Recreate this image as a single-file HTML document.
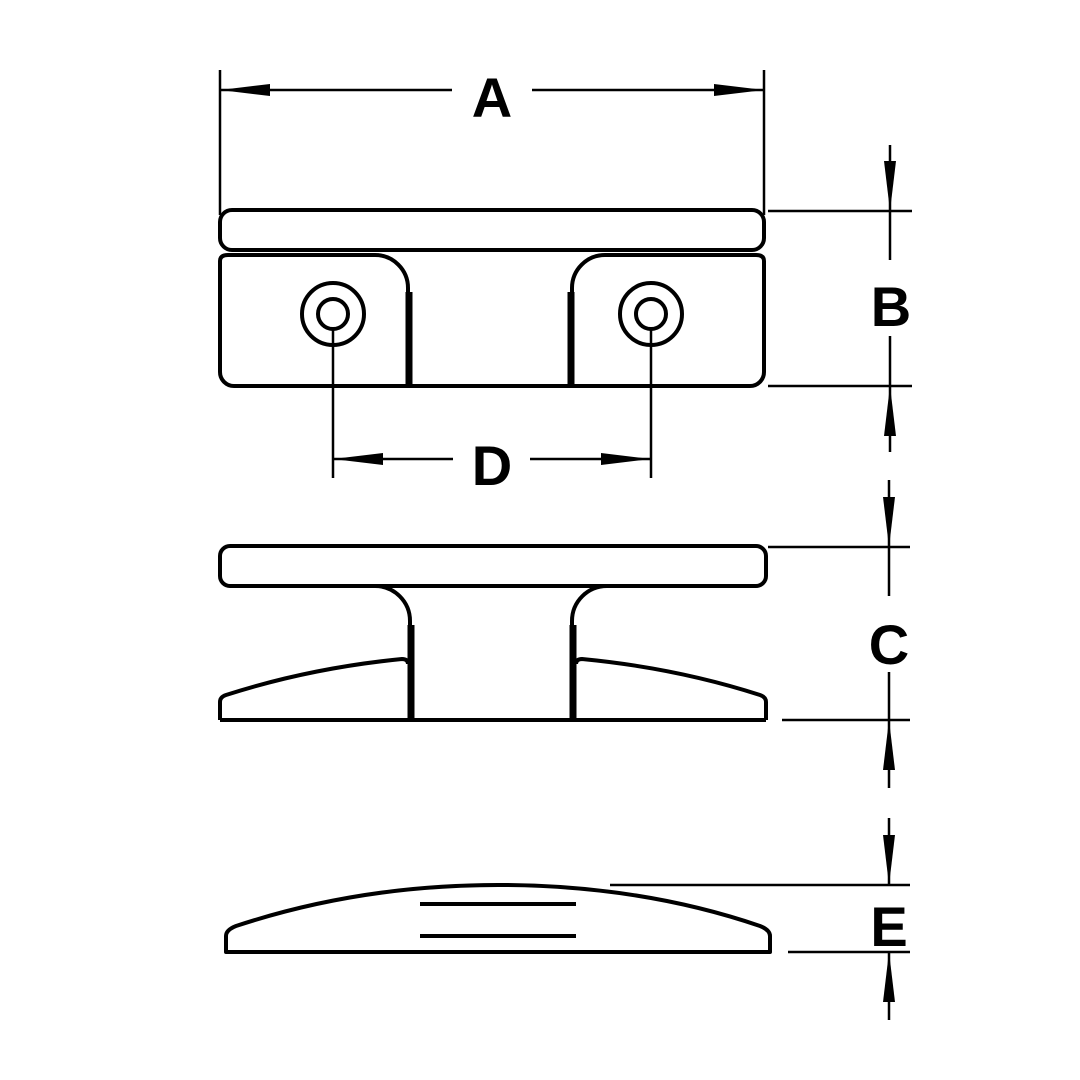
<!DOCTYPE html>
<html><head><meta charset="utf-8"><style>
html,body{margin:0;padding:0;background:#fff;width:1080px;height:1080px;overflow:hidden}
text{font-family:"Liberation Sans",sans-serif;font-weight:bold;font-size:56px;text-anchor:middle}
</style></head><body>
<svg width="1080" height="1080" viewBox="0 0 1080 1080" xmlns="http://www.w3.org/2000/svg">
<g fill="none" stroke="#000" stroke-width="4" stroke-linejoin="round">
<!-- top view -->
<rect x="220" y="210" width="544" height="40" rx="12"/>
<path d="M228 255 L375 255 A33 33 0 0 1 408 288 L408 386 L234 386 A14 14 0 0 1 220 372 L220 261 Q220 255 228 255 Z"/>
<path d="M756 255 L605 255 A33 33 0 0 0 572 288 L572 386 L750 386 A14 14 0 0 0 764 372 L764 261 Q764 255 756 255 Z"/>
<line x1="408" y1="386" x2="572" y2="386"/>
<circle cx="333" cy="314" r="31"/><circle cx="333" cy="314" r="15"/>
<circle cx="651" cy="314" r="31"/><circle cx="651" cy="314" r="15"/>
<!-- side view -->
<rect x="220" y="546" width="546" height="40" rx="10"/>
<path d="M375 586 A35 35 0 0 1 410 621 L410 720"/>
<path d="M607 586 A35 35 0 0 0 572 621 L572 720"/>
<line x1="220" y1="720" x2="766" y2="720"/>
<path d="M220 720 L220 702 Q220 697 226 695 Q310 668 402 659 Q408 659 408 664"/>
<path d="M766 720 L766 702 Q766 697 760 695 Q676 668 582 659 Q576 659 576 664"/>
<!-- end view -->
<path d="M226 952 L226 936 Q226 930 236 926 Q360 885 498 885 Q640 885 760 926 Q770 930 770 936 L770 952 Z"/>
<line x1="420" y1="904" x2="576" y2="904"/>
<line x1="420" y1="936" x2="576" y2="936"/>
</g>
<g stroke="#000" stroke-width="7">
<line x1="409" y1="292" x2="409" y2="384"/>
<line x1="571" y1="292" x2="571" y2="384"/>
<line x1="411" y1="625" x2="411" y2="718"/>
<line x1="573" y1="625" x2="573" y2="718"/>
</g>
<g stroke="#000" stroke-width="2.5">
<line x1="220" y1="70" x2="220" y2="215"/><line x1="764" y1="70" x2="764" y2="215"/>
<line x1="220" y1="90" x2="452" y2="90"/><line x1="532" y1="90" x2="764" y2="90"/>
<line x1="768" y1="211" x2="912" y2="211"/><line x1="768" y1="386" x2="912" y2="386"/>
<line x1="890" y1="145" x2="890" y2="260"/><line x1="890" y1="336" x2="890" y2="452"/>
<line x1="333" y1="330" x2="333" y2="478"/><line x1="651" y1="330" x2="651" y2="478"/>
<line x1="333" y1="459" x2="453" y2="459"/><line x1="530" y1="459" x2="651" y2="459"/>
<line x1="768" y1="547" x2="910" y2="547"/><line x1="782" y1="720" x2="910" y2="720"/>
<line x1="889" y1="480" x2="889" y2="596"/><line x1="889" y1="672" x2="889" y2="788"/>
<line x1="610" y1="885" x2="910" y2="885"/><line x1="788" y1="952" x2="910" y2="952"/>
<line x1="889" y1="818" x2="889" y2="885"/><line x1="889" y1="952" x2="889" y2="1020"/>
</g>
<g fill="#000">
<polygon points="220,90 270,84 270,96"/><polygon points="764,90 714,84 714,96"/>
<polygon points="890,211 884,161 896,161"/><polygon points="890,386 884,436 896,436"/>
<polygon points="333,459 383,453 383,465"/><polygon points="651,459 601,453 601,465"/>
<polygon points="889,547 883,497 895,497"/><polygon points="889,720 883,770 895,770"/>
<polygon points="889,885 883,835 895,835"/><polygon points="889,952 883,1002 895,1002"/>
</g>
<text x="492" y="117">A</text>
<text x="891" y="326">B</text>
<text x="492" y="485">D</text>
<text x="889" y="664">C</text>
<text x="889" y="946">E</text>
</svg>
</body></html>
